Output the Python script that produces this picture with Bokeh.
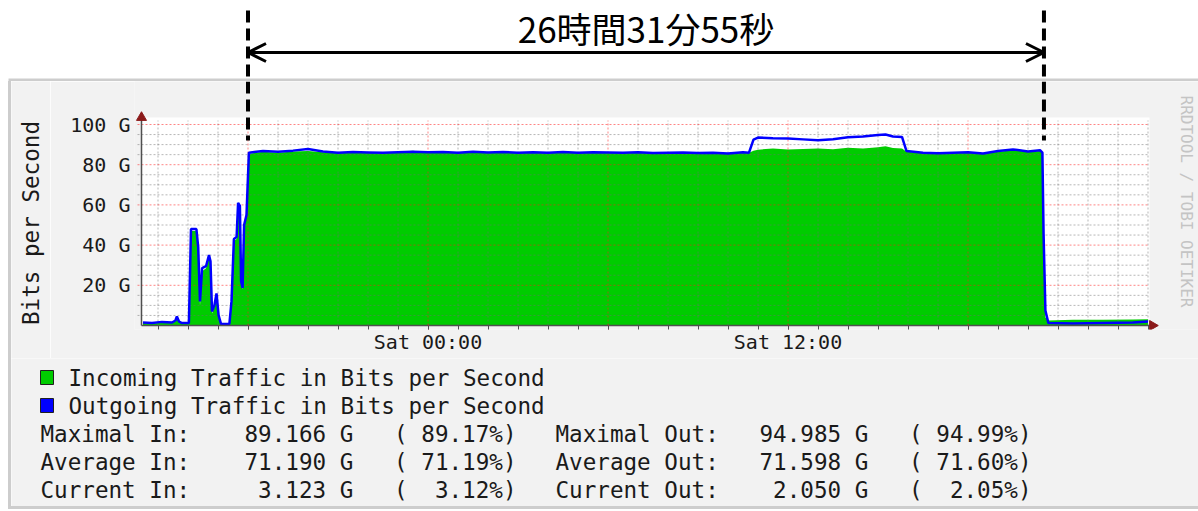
import math
from bokeh.plotting import figure
from bokeh.layouts import column, row
from bokeh.models import ColumnDataSource, FixedTicker, Arrow, OpenHead, Range1d
from bokeh.core.properties import value
from bokeh.embed import file_html
from bokeh.resources import INLINE

# ---------------- data (hours relative to Sat 00:00, values in Gbit/s) ----------------
hours = [-9.50, -9.20, -8.87, -8.53, -8.42, -8.37, -8.30, -8.20, -7.97, -7.90,
         -7.72, -7.66, -7.60, -7.53, -7.40, -7.30, -7.25, -7.20, -7.12, -7.05,
         -6.98, -6.90, -6.62, -6.55, -6.47, -6.38, -6.33, -6.27, -6.23, -6.18,
         -6.13, -6.05, -5.97, -5.50, -5.00, -4.50, -4.00, -3.50, -3.00, -2.50,
         -2.00, -1.50, -1.00, -0.50, 0.00, 0.50, 1.00, 1.50, 2.00, 2.50,
         3.00, 3.50, 4.00, 4.50, 5.00, 5.50, 6.00, 6.50, 7.00, 7.50,
         8.00, 8.50, 9.00, 9.50, 10.00, 10.50, 10.70, 10.85, 11.00, 11.50,
         12.00, 12.50, 13.00, 13.50, 14.00, 14.50, 15.00, 15.25, 15.50, 15.80,
         15.95, 16.50, 17.00, 17.50, 18.00, 18.50, 19.00, 19.50, 20.00, 20.40,
         20.48, 20.52, 20.58, 20.68, 21.50, 22.50, 23.50, 24.00]

in_gbps = [1.2, 1.0, 1.4, 1.2, 2.0, 3.8, 1.8, 1.0, 1.0, 47.0,
           47.0, 37.0, 10.0, 27.0, 28.5, 34.0, 31.0, 6.0, 9.0, 15.0,
           4.0, 0.6, 0.6, 11.0, 42.0, 43.0, 60.0, 58.0, 21.0, 18.0,
           49.0, 54.0, 85.5, 86.4, 86.0, 86.6, 86.8, 86.2, 85.8, 86.0,
           85.9, 85.6, 86.4, 86.9, 86.0, 86.1, 85.8, 86.2, 86.0, 86.2,
           85.9, 86.0, 85.8, 86.1, 85.9, 86.0, 86.0, 85.8, 86.1, 85.6,
           85.9, 86.0, 85.7, 85.9, 85.5, 86.0, 86.0, 87.0, 87.5, 88.0,
           87.6, 87.8, 88.0, 87.7, 88.4, 88.0, 88.7, 89.2, 88.3, 88.0,
           86.5, 85.8, 85.5, 85.8, 86.0, 85.5, 86.5, 87.2, 86.4, 86.8,
           85.8, 44.0, 4.0, 2.5, 2.8, 2.9, 3.0, 3.1]

out_gbps = [1.5, 1.2, 1.8, 1.5, 2.5, 4.5, 2.0, 1.2, 1.2, 48.0,
            48.0, 39.0, 12.0, 28.5, 29.5, 35.0, 32.0, 7.0, 10.0, 16.0,
            5.0, 0.8, 0.8, 12.0, 43.0, 44.0, 61.0, 59.5, 22.0, 18.7,
            50.0, 55.0, 86.0, 86.8, 86.5, 87.0, 87.8, 86.6, 86.0, 86.3,
            86.1, 85.9, 86.2, 86.4, 86.2, 86.3, 86.0, 86.4, 86.1, 86.3,
            86.0, 86.2, 85.9, 86.3, 86.0, 86.2, 86.1, 85.9, 86.2, 85.8,
            86.0, 86.1, 85.8, 86.0, 85.6, 86.2, 86.0, 92.5, 93.5, 93.2,
            93.0, 92.6, 92.2, 92.7, 93.6, 94.0, 94.8, 95.0, 94.0, 93.8,
            86.8, 86.0, 85.7, 86.0, 86.2, 85.6, 86.8, 87.6, 86.6, 87.2,
            86.0, 45.0, 7.5, 1.2, 1.0, 1.3, 1.5, 2.0]

x_tick_hours = [-6, 0, 6, 12, 18]
x_tick_labels = ["", "Sat 00:00", "", "Sat 12:00", ""]
x_minor_hours = list(range(-9, 25))
y_ticks = [20, 40, 60, 80, 100]
y_tick_labels = ["20 G", "40 G", "60 G", "80 G", "100 G"]
y_minor = list(range(5, 105, 5))

span_hours = [-6.0, 20.532]          # marked period: 26 h 31 min 55 s
duration_text = "26時間31分55秒"
y_axis_title = "Bits per Second"
watermark = "RRDTOOL / TOBI OETIKER"

legend_texts = ["Incoming Traffic in Bits per Second", "Outgoing Traffic in Bits per Second"]
legend_colors = ["#00cc00", "#0000ff"]

stat_names_in = ["Maximal In:", "Average In:", "Current In:"]
stat_vals_in = ["89.166 G", "71.190 G", "3.123 G"]
stat_pct_in = ["89.17%)", "71.19%)", "3.12%)"]
stat_names_out = ["Maximal Out:", "Average Out:", "Current Out:"]
stat_vals_out = ["94.985 G", "71.598 G", "2.050 G"]
stat_pct_out = ["94.99%)", "71.60%)", "2.05%)"]

# ---------------- style / geometry ----------------
MONO = "DejaVu Sans Mono"
TXT = "#1a1a1a"
PANEL = "#f2f2f2"
EDGE = "#cdcdcd"
GREEN, BLUE = legend_colors
H0, H0_PX, PX_PER_H = -9.55, 141.0, 30.0      # page pixel of the start of the time axis
G_PX, BASE_PX = 2.01, 325.0                   # pixels per Gbit/s, page y of 0
FS = "22.6px"
CW = 13.6                                     # monospace character advance at FS


def h_at(px):
    return H0 + (px - H0_PX) / PX_PER_H


def g_at(py):
    return (BASE_PX - py) / G_PX


common = dict(output_backend="svg", toolbar_location=None, outline_line_color=None,
              frame_align=False)

# ---------------- top strip: duration marker ----------------
pa = figure(width=1198, height=81, x_range=Range1d(h_at(0), h_at(1198)), y_range=Range1d(81, 0),
            x_axis_location=None, y_axis_location=None, min_border=0,
            background_fill_color="white", border_fill_color="white", **common)
pa.grid.visible = False
pa.quad(left=h_at(8), right=h_at(1198), top=78, bottom=81, fill_color=EDGE, line_color=None)
pa.segment(x0=span_hours, y0=10, x1=span_hours, y1=81, line_color="black",
           line_width=4, line_dash="12 6")
pa.add_layout(Arrow(start=OpenHead(size=18, line_width=3, line_color="black"),
                    end=OpenHead(size=18, line_width=3, line_color="black"),
                    x_start=span_hours[0], y_start=52, x_end=span_hours[1], y_end=52,
                    line_color="black", line_width=3))
pa.text(x=[sum(span_hours) / 2], y=[27], text=[duration_text],
        text_font=value("Noto Sans CJK JP"), text_font_size="35px",
        text_align="center", text_baseline="middle", text_color="black")

# ---------------- y axis title strip ----------------
pl = figure(width=39, height=277, x_range=Range1d(11, 50), y_range=Range1d(358, 81),
            x_axis_location=None, y_axis_location=None, min_border=0,
            margin=(0, 0, 0, 11), styles={"box-shadow": "-3px 0 0 0 " + EDGE},
            background_fill_color=PANEL, border_fill_color=PANEL, **common)
pl.grid.visible = False
pl.text(x=[30], y=[222.5], text=[y_axis_title], angle=math.pi / 2,
        text_font=value(MONO), text_font_size=FS, text_color=TXT,
        text_align="center", text_baseline="middle")

# ---------------- main graph ----------------
pb = figure(width=1148, height=277, x_range=Range1d(h_at(134), h_at(1198)),
            y_range=Range1d(g_at(329), g_at(81)),
            min_border_left=84, min_border_right=0, min_border_top=0, min_border_bottom=29,
            background_fill_color=PANEL, border_fill_color=PANEL, **common)
pb.grid.visible = False

x_lo, x_hi = H0, h_at(1149)
pb.quad(left=x_lo, right=x_hi, bottom=0, top=g_at(117), fill_color="white", line_color=None)

src = ColumnDataSource(dict(t=hours, inc=in_gbps, out=out_gbps))
pb.varea(x="t", y1=0, y2="inc", source=src, fill_color=GREEN, fill_alpha=1.0)

# rrdtool style grid (drawn over the area)
vx_minor = [h for h in x_minor_hours if h not in x_tick_hours]
hy_minor = [v for v in y_minor if v not in y_ticks]
grid_top = g_at(120)
pb.segment(x0=vx_minor, y0=0, x1=vx_minor, y1=grid_top, line_color="#707070",
           line_alpha=0.5, line_dash="2 2", line_width=1)
pb.segment(x0=h_at(137), y0=hy_minor, x1=h_at(1147), y1=hy_minor, line_color="#707070",
           line_alpha=0.5, line_dash="2 2", line_width=1)
pb.segment(x0=x_tick_hours, y0=0, x1=x_tick_hours, y1=grid_top, line_color="#ff2020",
           line_alpha=0.55, line_dash="2 2", line_width=1)
pb.segment(x0=h_at(137), y0=y_ticks, x1=h_at(1147), y1=y_ticks, line_color="#ff2020",
           line_alpha=0.55, line_dash="2 2", line_width=1)

pb.line(x="t", y="out", source=src, line_color=BLUE, line_width=2.5)

# axis lines with arrow heads
pb.segment(x0=[H0, H0], y0=[0, 0], x1=[H0, h_at(1150)], y1=[g_at(117), 0],
           line_color="#505050", line_width=1.5)
pb.scatter(x=[H0], y=[g_at(117)], marker="triangle", size=10, color="#8b1a1a")
pb.scatter(x=[h_at(1152)], y=[0], marker="triangle", size=10, angle=-math.pi / 2,
           color="#8b1a1a")

# lower part of the duration marker
pb.segment(x0=span_hours, y0=g_at(81), x1=span_hours, y1=g_at(140), line_color="black",
           line_width=4, line_dash="12 6")

# watermark
pb.text(x=[h_at(1186)], y=[g_at(201)], text=[watermark], angle=-math.pi / 2,
        text_font=value(MONO), text_font_size="16px", text_color="#c4c4c4",
        text_align="center", text_baseline="middle")

pb.xaxis.ticker = FixedTicker(ticks=x_tick_hours, minor_ticks=x_minor_hours)
pb.xaxis.major_label_overrides = dict(zip(x_tick_hours, x_tick_labels))
pb.yaxis.ticker = FixedTicker(ticks=y_ticks, minor_ticks=y_minor)
pb.yaxis.major_label_overrides = dict(zip(y_ticks, y_tick_labels))
for ax in (pb.xaxis, pb.yaxis):
    ax.axis_line_color = None
    ax.major_label_text_font = MONO
    ax.major_label_text_font_size = "20px"
    ax.major_label_text_color = TXT
pb.xaxis.major_tick_in = 5
pb.xaxis.major_tick_out = 0
pb.xaxis.major_tick_line_color = "#c03030"
pb.xaxis.minor_tick_in = 4
pb.xaxis.minor_tick_out = 0
pb.xaxis.minor_tick_line_color = "#505050"
pb.xaxis.major_label_standoff = 0
pb.yaxis.major_tick_in = 0
pb.yaxis.major_tick_out = 0
pb.yaxis.minor_tick_in = 0
pb.yaxis.minor_tick_out = 0
pb.yaxis.major_label_standoff = 4

# ---------------- legend and statistics ----------------
pc = figure(width=1187, height=148, x_range=Range1d(11, 1198), y_range=Range1d(506, 358),
            x_axis_location=None, y_axis_location=None, min_border=0,
            margin=(0, 0, 0, 11),
            styles={"box-shadow": "-3px 0 0 0 %s, 0 3px 0 0 %s, -3px 3px 0 0 %s" % (EDGE, EDGE, EDGE)},
            background_fill_color=PANEL, border_fill_color=PANEL, **common)
pc.grid.visible = False

leg_y = [377, 405]
pc.rect(x=46.5, y=leg_y, width=13, height=14, fill_color=legend_colors,
        line_color="#202020", line_width=1)
pc.text(x=68, y=leg_y, text=legend_texts, text_font=value(MONO), text_font_size=FS,
        text_color=TXT, text_align="left", text_baseline="middle")

row_y = [433, 461, 489]
txt = dict(text_font=value(MONO), text_font_size=FS, text_color=TXT, text_baseline="middle")
for base, names, vals, pcts in ((40, stat_names_in, stat_vals_in, stat_pct_in),
                                (555, stat_names_out, stat_vals_out, stat_pct_out)):
    pc.text(x=base, y=row_y, text=names, text_align="left", **txt)
    pc.text(x=base + 23 * CW, y=row_y, text=vals, text_align="right", **txt)
    pc.text(x=base + 26 * CW, y=row_y, text=["("] * 3, text_align="left", **txt)
    pc.text(x=base + 35 * CW, y=row_y, text=pcts, text_align="right", **txt)

layout = column(pa, row(pl, pb, spacing=0), pc, spacing=0)
open("out.html", "w").write(file_html(layout, INLINE))
